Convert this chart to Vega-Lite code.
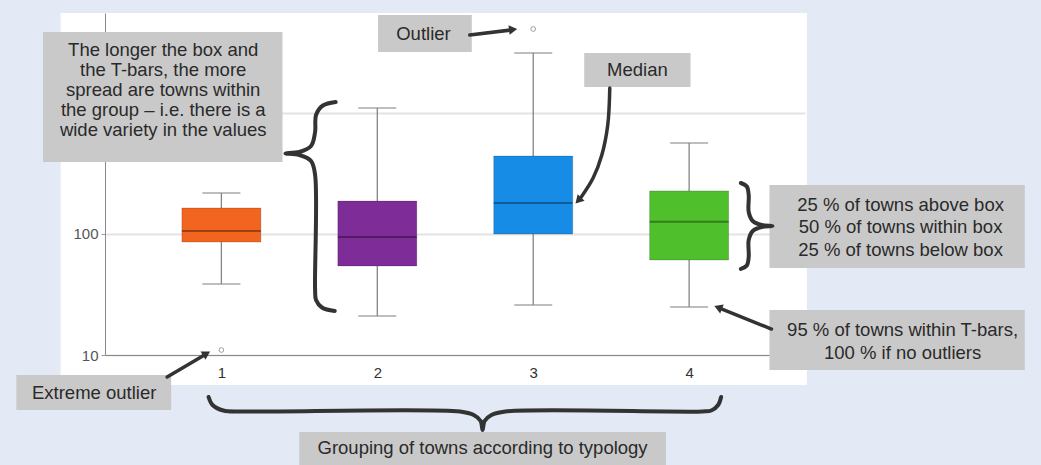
{
  "$schema": "https://vega.github.io/schema/vega-lite/v6.json",
  "width": 700,
  "height": 342,
  "autosize": {"type": "none"},
  "padding": {"left": 105, "top": 13, "right": 236, "bottom": 110},
  "background": "white",
  "config": {"view": {"stroke": null}, "font": "Liberation Sans"},
  "datasets": {
    "strips": [
      {"k": -0.5, "k2": -0.031, "v": 1, "v2": 9000},
      {"k": 4.755, "k2": 6.5, "v": 1, "v2": 9000},
      {"k": -0.5, "k2": 6.5, "v": 6705, "v2": 9000},
      {"k": -0.5, "k2": 6.5, "v": 1, "v2": 5.65}
    ],
    "boxes": [
      {"k": 1, "lo": 38.6, "q1": 85.9, "med": 106, "q3": 164, "hi": 218},
      {"k": 2, "lo": 21.0, "q1": 54.4, "med": 94.4, "q3": 187, "hi": 1100},
      {"k": 3, "lo": 25.9, "q1": 100, "med": 180, "q3": 441, "hi": 3133},
      {"k": 4, "lo": 24.9, "q1": 61, "med": 126, "q3": 227, "hi": 565}
    ],
    "outliers": [
      {"k": 1, "v": 11.0},
      {"k": 3, "v": 4945}
    ],
    "noteRects": [
      {"k": -0.144, "k2": 1.392, "v": 394, "v2": 4670},
      {"k": 2.005, "k2": 2.606, "v": 3192, "v2": 6457},
      {"k": 3.327, "k2": 4.009, "v": 1641, "v2": 3133},
      {"k": 4.515, "k2": 6.153, "v": 52.4, "v2": 254.1},
      {"k": 4.515, "k2": 6.153, "v": 7.52, "v2": 23.54},
      {"k": -0.315, "k2": 0.678, "v": 3.512, "v2": 6.835},
      {"k": 1.4995, "k2": 3.851, "v": 1.121, "v2": 2.31}
    ],
    "notesA": [
      {"k": 0.627, "v": 3317, "t": "The longer the box and\nthe T-bars, the more\nspread are towns within\nthe group – i.e. there is a\nwide variety in the values"}
    ],
    "notesB": [
      {"k": 2.296, "v": 4498, "t": "Outlier"},
      {"k": 3.668, "v": 2265, "t": "Median"},
      {"k": 5.356, "v": 173.7, "t": "25 % of towns above box\n50 % of towns within box\n25 % of towns below box"},
      {"k": 5.369, "v": 16.09, "t": "95 % of towns within T-bars,\n100 % if no outliers"},
      {"k": 0.184, "v": 4.853, "t": "Extreme outlier"},
      {"k": 2.675, "v": 1.703, "t": "Grouping of towns according to typology"}
    ],
    "braces": [
      {"id": "L", "o": 1, "k": 1.733, "v": 1233},
      {"id": "L", "o": 2, "k": 1.651, "v": 1153},
      {"id": "L", "o": 3, "k": 1.607, "v": 962.7},
      {"id": "L", "o": 4, "k": 1.601, "v": 696.6},
      {"id": "L", "o": 5, "k": 1.575, "v": 533.8},
      {"id": "L", "o": 6, "k": 1.4995, "v": 476.1},
      {"id": "L", "o": 7, "k": 1.411, "v": 462.7},
      {"id": "L", "o": 8, "k": 1.4995, "v": 449.7},
      {"id": "L", "o": 9, "k": 1.575, "v": 401.1},
      {"id": "L", "o": 10, "k": 1.601, "v": 307.4},
      {"id": "L", "o": 11, "k": 1.601, "v": 34.45},
      {"id": "L", "o": 12, "k": 1.607, "v": 28.48},
      {"id": "L", "o": 13, "k": 1.645, "v": 24.7},
      {"id": "L", "o": 14, "k": 1.727, "v": 23.1},
      {"id": "R", "o": 1, "k": 4.332, "v": 263.9},
      {"id": "R", "o": 2, "k": 4.37, "v": 247.0},
      {"id": "R", "o": 3, "k": 4.382, "v": 210.1},
      {"id": "R", "o": 4, "k": 4.382, "v": 152.0},
      {"id": "R", "o": 5, "k": 4.408, "v": 128.1},
      {"id": "R", "o": 6, "k": 4.465, "v": 118.7},
      {"id": "R", "o": 7, "k": 4.534, "v": 116.4},
      {"id": "R", "o": 8, "k": 4.465, "v": 114.3},
      {"id": "R", "o": 9, "k": 4.408, "v": 105.9},
      {"id": "R", "o": 10, "k": 4.382, "v": 89.2},
      {"id": "R", "o": 11, "k": 4.382, "v": 64.55},
      {"id": "R", "o": 12, "k": 4.37, "v": 54.9},
      {"id": "R", "o": 13, "k": 4.332, "v": 51.4},
      {"id": "B", "o": 1, "k": 0.918, "v": 4.497},
      {"id": "B", "o": 2, "k": 0.943, "v": 3.863},
      {"id": "B", "o": 3, "k": 1.0126, "v": 3.478},
      {"id": "B", "o": 4, "k": 1.139, "v": 3.413},
      {"id": "B", "o": 5, "k": 2.53, "v": 3.413},
      {"id": "B", "o": 6, "k": 2.6185, "v": 3.192},
      {"id": "B", "o": 7, "k": 2.663, "v": 2.848},
      {"id": "B", "o": 8, "k": 2.675, "v": 2.4},
      {"id": "B", "o": 9, "k": 2.688, "v": 2.848},
      {"id": "B", "o": 10, "k": 2.732, "v": 3.192},
      {"id": "B", "o": 11, "k": 2.821, "v": 3.413},
      {"id": "B", "o": 12, "k": 4.085, "v": 3.413},
      {"id": "B", "o": 13, "k": 4.142, "v": 3.478},
      {"id": "B", "o": 14, "k": 4.186, "v": 3.863},
      {"id": "B", "o": 15, "k": 4.205, "v": 4.497}
    ],
    "arrows": [
      {"id": "out", "o": 1, "k": 2.593, "v": 4413},
      {"id": "out", "o": 2, "k": 2.859, "v": 4853},
      {"id": "med", "o": 1, "k": 3.491, "v": 1609},
      {"id": "med", "o": 2, "k": 3.478, "v": 796},
      {"id": "med", "o": 3, "k": 3.44, "v": 449.8},
      {"id": "med", "o": 4, "k": 3.384, "v": 290.2},
      {"id": "med", "o": 5, "k": 3.308, "v": 202.2},
      {"id": "tb", "o": 1, "k": 4.528, "v": 16.4},
      {"id": "tb", "o": 2, "k": 4.199, "v": 24.23},
      {"id": "ext", "o": 1, "k": 0.652, "v": 6.58},
      {"id": "ext", "o": 2, "k": 0.886, "v": 9.905}
    ],
    "heads": [
      {"k": 2.871, "v": 4898, "a": 83},
      {"k": 3.289, "v": 189.2, "a": 223},
      {"k": 4.186, "v": 24.7, "a": 292},
      {"k": 0.905, "v": 10.29, "a": 59}
    ]
  },
  "layer": [
    {
      "data": {"name": "strips"},
      "mark": {"type": "rect", "color": "#e4e9f6"},
      "encoding": {
        "x": {"field": "k", "type": "quantitative", "scale": {"type": "linear", "domain": [0.2856, 4.711], "nice": false, "zero": false},
              "axis": {"values": [1, 2, 3, 4], "format": "d", "grid": false, "ticks": false, "labelPadding": 10, "domainColor": "#8a8a8a", "labelColor": "#333333", "labelFontSize": 15, "labelFont": "Liberation Sans", "title": null}},
        "x2": {"field": "k2"},
        "y": {"field": "v", "type": "quantitative", "scale": {"type": "log", "domain": [10, 6705], "nice": false},
              "axis": {"values": [10, 100, 1000], "format": "d", "labelExpr": "datum.value == 1000 ? '' : datum.label", "grid": true, "gridColor": "#e3e3e3", "gridWidth": 2, "tickSize": 4, "tickColor": "#999999", "domainColor": "#8a8a8a", "labelColor": "#555555", "labelFontSize": 15, "labelFont": "Liberation Sans", "labelPadding": 3, "title": null}},
        "y2": {"field": "v2"}
      }
    },
    {
      "data": {"name": "boxes"},
      "mark": {"type": "rule", "color": "#858585", "strokeWidth": 1.3},
      "encoding": {
        "x": {"field": "k", "type": "quantitative", "scale": {"type": "linear", "domain": [0.2856, 4.711], "nice": false, "zero": false}, "title": null},
        "y": {"field": "lo", "type": "quantitative", "scale": {"type": "log", "domain": [10, 6705], "nice": false}, "title": null},
        "y2": {"field": "hi"}
      }
    },
    {
      "data": {"name": "boxes"},
      "mark": {"type": "tick", "orient": "horizontal", "color": "#858585", "size": 38, "thickness": 1.5},
      "encoding": {
        "x": {"field": "k", "type": "quantitative", "scale": {"type": "linear", "domain": [0.2856, 4.711], "nice": false, "zero": false}, "title": null},
        "y": {"field": "lo", "type": "quantitative", "scale": {"type": "log", "domain": [10, 6705], "nice": false}, "title": null}
      }
    },
    {
      "data": {"name": "boxes"},
      "mark": {"type": "tick", "orient": "horizontal", "color": "#858585", "size": 38, "thickness": 1.5},
      "encoding": {
        "x": {"field": "k", "type": "quantitative", "scale": {"type": "linear", "domain": [0.2856, 4.711], "nice": false, "zero": false}, "title": null},
        "y": {"field": "hi", "type": "quantitative", "scale": {"type": "log", "domain": [10, 6705], "nice": false}, "title": null}
      }
    },
    {
      "data": {"name": "boxes"},
      "mark": {"type": "bar", "size": 79, "stroke": "#000000", "strokeOpacity": 0.18, "strokeWidth": 1, "opacity": 1},
      "encoding": {
        "x": {"field": "k", "type": "quantitative", "scale": {"type": "linear", "domain": [0.2856, 4.711], "nice": false, "zero": false}, "title": null},
        "y": {"field": "q1", "type": "quantitative", "scale": {"type": "log", "domain": [10, 6705], "nice": false}, "title": null},
        "y2": {"field": "q3"},
        "color": {"field": "k", "type": "nominal", "scale": {"domain": [1, 2, 3, 4], "range": ["#f26520", "#7e2c98", "#168ce6", "#4fbf2c"]}, "legend": null}
      }
    },
    {
      "data": {"name": "boxes"},
      "mark": {"type": "tick", "orient": "horizontal", "color": "#000000", "opacity": 0.35, "size": 79, "thickness": 2},
      "encoding": {
        "x": {"field": "k", "type": "quantitative", "scale": {"type": "linear", "domain": [0.2856, 4.711], "nice": false, "zero": false}, "title": null},
        "y": {"field": "med", "type": "quantitative", "scale": {"type": "log", "domain": [10, 6705], "nice": false}, "title": null}
      }
    },
    {
      "data": {"name": "outliers"},
      "mark": {"type": "point", "shape": "circle", "filled": false, "color": "#777777", "size": 22, "strokeWidth": 1},
      "encoding": {
        "x": {"field": "k", "type": "quantitative", "scale": {"type": "linear", "domain": [0.2856, 4.711], "nice": false, "zero": false}, "title": null},
        "y": {"field": "v", "type": "quantitative", "scale": {"type": "log", "domain": [10, 6705], "nice": false}, "title": null}
      }
    },
    {
      "data": {"name": "noteRects"},
      "mark": {"type": "rect", "color": "#c9c9c9"},
      "encoding": {
        "x": {"field": "k", "type": "quantitative", "scale": {"type": "linear", "domain": [0.2856, 4.711], "nice": false, "zero": false}, "title": null},
        "x2": {"field": "k2"},
        "y": {"field": "v", "type": "quantitative", "scale": {"type": "log", "domain": [10, 6705], "nice": false}, "title": null},
        "y2": {"field": "v2"}
      }
    },
    {
      "data": {"name": "notesA"},
      "mark": {"type": "text", "fontSize": 18.5, "lineHeight": 20, "lineBreak": "\n", "align": "center", "baseline": "middle", "color": "#2a2a2a", "font": "Liberation Sans"},
      "encoding": {
        "x": {"field": "k", "type": "quantitative", "scale": {"type": "linear", "domain": [0.2856, 4.711], "nice": false, "zero": false}, "title": null},
        "y": {"field": "v", "type": "quantitative", "scale": {"type": "log", "domain": [10, 6705], "nice": false}, "title": null},
        "text": {"field": "t", "type": "nominal"}
      }
    },
    {
      "data": {"name": "notesB"},
      "mark": {"type": "text", "fontSize": 18.5, "lineHeight": 22.5, "lineBreak": "\n", "align": "center", "baseline": "middle", "color": "#2a2a2a", "font": "Liberation Sans"},
      "encoding": {
        "x": {"field": "k", "type": "quantitative", "scale": {"type": "linear", "domain": [0.2856, 4.711], "nice": false, "zero": false}, "title": null},
        "y": {"field": "v", "type": "quantitative", "scale": {"type": "log", "domain": [10, 6705], "nice": false}, "title": null},
        "text": {"field": "t", "type": "nominal"}
      }
    },
    {
      "data": {"name": "braces"},
      "mark": {"type": "line", "interpolate": "catmull-rom", "color": "#333333", "strokeWidth": 4, "strokeCap": "round", "strokeJoin": "round"},
      "encoding": {
        "x": {"field": "k", "type": "quantitative", "scale": {"type": "linear", "domain": [0.2856, 4.711], "nice": false, "zero": false}, "title": null},
        "y": {"field": "v", "type": "quantitative", "scale": {"type": "log", "domain": [10, 6705], "nice": false}, "title": null},
        "detail": {"field": "id", "type": "nominal"},
        "order": {"field": "o", "type": "quantitative"}
      }
    },
    {
      "data": {"name": "arrows"},
      "mark": {"type": "line", "interpolate": "catmull-rom", "color": "#333333", "strokeWidth": 3.5, "strokeCap": "round"},
      "encoding": {
        "x": {"field": "k", "type": "quantitative", "scale": {"type": "linear", "domain": [0.2856, 4.711], "nice": false, "zero": false}, "title": null},
        "y": {"field": "v", "type": "quantitative", "scale": {"type": "log", "domain": [10, 6705], "nice": false}, "title": null},
        "detail": {"field": "id", "type": "nominal"},
        "order": {"field": "o", "type": "quantitative"}
      }
    },
    {
      "data": {"name": "heads"},
      "mark": {"type": "point", "shape": "triangle-up", "filled": true, "color": "#333333", "size": 90, "opacity": 1},
      "encoding": {
        "x": {"field": "k", "type": "quantitative", "scale": {"type": "linear", "domain": [0.2856, 4.711], "nice": false, "zero": false}, "title": null},
        "y": {"field": "v", "type": "quantitative", "scale": {"type": "log", "domain": [10, 6705], "nice": false}, "title": null},
        "angle": {"field": "a", "type": "quantitative", "scale": null}
      }
    }
  ]
}
